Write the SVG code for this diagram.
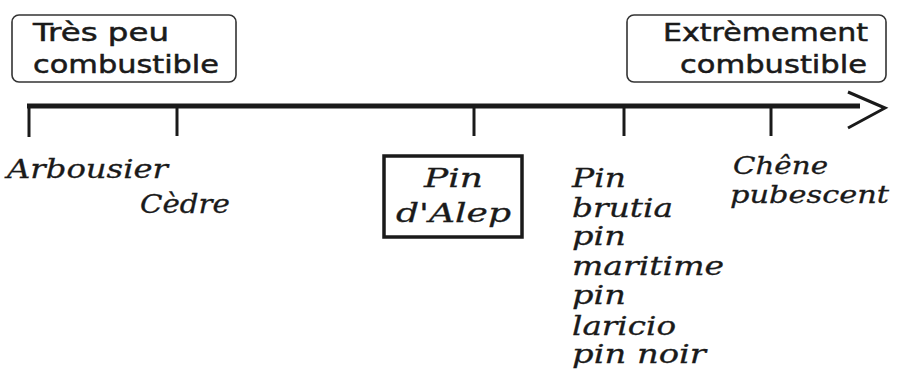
<svg xmlns="http://www.w3.org/2000/svg" width="902" height="381" viewBox="0 0 902 381">
<style>
.sans{font-family:"DejaVu Sans","Liberation Sans",sans-serif;font-size:25px;fill:#1a1a1a;stroke:#1a1a1a;stroke-width:0.5}
.ital{font-family:"DejaVu Serif","Liberation Serif",serif;font-style:italic;font-size:26px;fill:#1a1a1a;stroke:#1a1a1a;stroke-width:0.3}
.sm{font-size:24px}
.rbox{fill:#fff;stroke:#333;stroke-width:1.6}
.ax{stroke:#1a1a1a;fill:none}
</style>
<rect width="902" height="381" fill="#fff"/>
<g id="axis">
<line class="ax" x1="27" y1="106" x2="860" y2="106" stroke-width="5"/>
<polyline class="ax" points="848,92 885,108 848,128" stroke-width="3"/>
<g stroke-width="3" class="ax">
<line x1="29" y1="104" x2="29" y2="137"/>
<line x1="177" y1="106" x2="177" y2="136"/>
<line x1="474" y1="106" x2="474" y2="136"/>
<line x1="624" y1="106" x2="624" y2="136"/>
<line x1="771" y1="106" x2="771" y2="136"/>
</g>
</g>
<g id="tres-peu">
<rect class="rbox" x="12" y="15" width="224" height="67" rx="7"/>
<text class="sans" x="33" y="41" textLength="136" lengthAdjust="spacingAndGlyphs">Très peu</text>
<text class="sans" x="33" y="73" textLength="186" lengthAdjust="spacingAndGlyphs">combustible</text>
</g>
<g id="extremement">
<rect class="rbox" x="627" y="15" width="259" height="67" rx="7"/>
<text class="sans" x="663" y="41" textLength="205" lengthAdjust="spacingAndGlyphs">Extrèmement</text>
<text class="sans" x="680" y="73" textLength="187" lengthAdjust="spacingAndGlyphs">combustible</text>
</g>
<g id="arbousier"><text class="ital" x="7" y="178" textLength="161" lengthAdjust="spacingAndGlyphs">Arbousier</text></g>
<g id="cedre"><text class="ital" x="140" y="213" textLength="90" lengthAdjust="spacingAndGlyphs">Cèdre</text></g>
<g id="pin-alep">
<rect x="384" y="156" width="138" height="81" fill="#fff" stroke="#1a1a1a" stroke-width="3.5"/>
<text class="ital" x="424" y="187" textLength="59" lengthAdjust="spacingAndGlyphs">Pin</text>
<text class="ital" x="396" y="222" textLength="115" lengthAdjust="spacingAndGlyphs">d'Alep</text>
</g>
<g id="pins">
<text class="ital" x="572" y="187" textLength="54" lengthAdjust="spacingAndGlyphs">Pin</text>
<text class="ital" x="572" y="217" textLength="101" lengthAdjust="spacingAndGlyphs">brutia</text>
<text class="ital" x="572" y="245" textLength="54" lengthAdjust="spacingAndGlyphs">pin</text>
<text class="ital" x="572" y="275" textLength="152" lengthAdjust="spacingAndGlyphs">maritime</text>
<text class="ital" x="572" y="304" textLength="54" lengthAdjust="spacingAndGlyphs">pin</text>
<text class="ital" x="572" y="335" textLength="104" lengthAdjust="spacingAndGlyphs">laricio</text>
<text class="ital" x="572" y="363" textLength="134" lengthAdjust="spacingAndGlyphs">pin noir</text>
</g>
<g id="chene">
<text class="ital sm" x="733" y="174" textLength="95" lengthAdjust="spacingAndGlyphs">Chêne</text>
<text class="ital sm" x="730" y="203" textLength="159" lengthAdjust="spacingAndGlyphs">pubescent</text>
</g>
</svg>
